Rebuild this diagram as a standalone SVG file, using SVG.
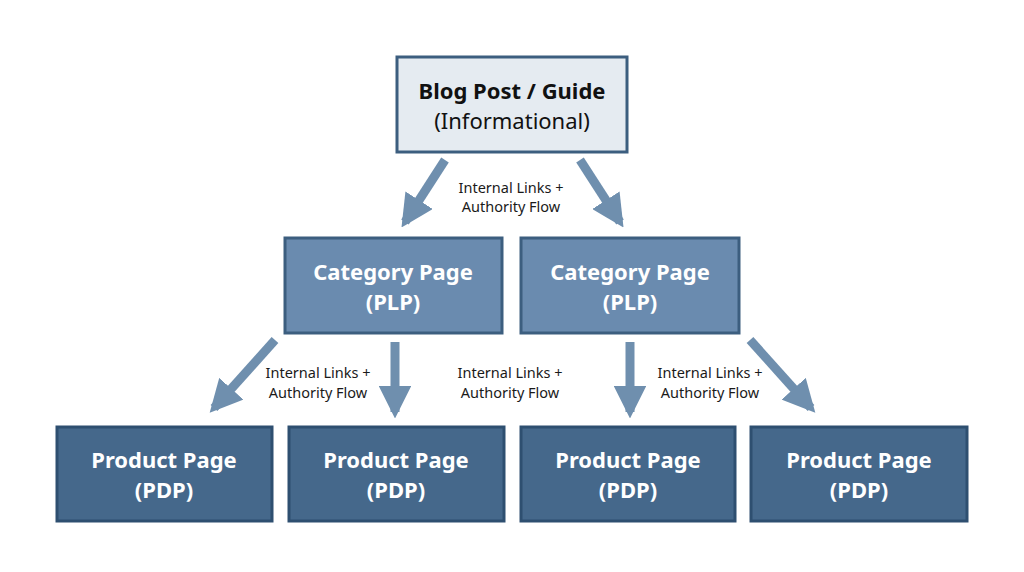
<svg xmlns="http://www.w3.org/2000/svg" width="1024" height="572" viewBox="0 0 1024 572">
<style>
.t{font-family:"Noto Sans","Open Sans",sans-serif;text-anchor:middle}
.b{font-size:22px;font-weight:bold;fill:#fff}
.l{font-size:14.5px;fill:#1a1a1a}
.top{fill:#e5ebf1;stroke:#3c5e7f;stroke-width:3}
.cat{fill:#6a8baf;stroke:#3c5e7f;stroke-width:3}
.pdp{fill:#45688b;stroke:#2e4f70;stroke-width:3}
.a{stroke:#6f8fae;stroke-width:9;fill:none;marker-end:url(#h)}
</style>
<defs><marker id="h" viewBox="0 0 10 10" refX="8" refY="5" markerWidth="3.6" markerHeight="3.6" orient="auto" markerUnits="strokeWidth"><path d="M0,0L10,5L0,10z" fill="#6f8fae"/></marker></defs>
<rect width="1024" height="572" fill="#fff"/>
<g id="connectors">
<line class="a" x1="445" y1="160" x2="405" y2="222"/>
<line class="a" x1="580" y1="160" x2="620" y2="222"/>
<line class="a" x1="275" y1="340" x2="214" y2="408"/>
<line class="a" x1="395" y1="342" x2="395" y2="412"/>
<line class="a" x1="630" y1="342" x2="630" y2="412"/>
<line class="a" x1="750" y1="340" x2="811" y2="408"/>
</g>
<g id="labels" class="t l">
<text x="511" y="193">Internal Links +</text><text x="511" y="212">Authority Flow</text>
<text x="318" y="378">Internal Links +</text><text x="318" y="398">Authority Flow</text>
<text x="510" y="378">Internal Links +</text><text x="510" y="398">Authority Flow</text>
<text x="710" y="378">Internal Links +</text><text x="710" y="398">Authority Flow</text>
</g>
<g id="blog"><rect class="top" x="397" y="57" width="230" height="95"/>
<text class="t" x="512" y="99" font-size="22" font-weight="bold" fill="#111">Blog Post / Guide</text>
<text class="t" x="512" y="129" font-size="22" fill="#111">(Informational)</text></g>
<g id="cat1"><rect class="cat" x="285" y="238" width="217" height="95"/><text class="t b" x="393" y="280">Category Page</text><text class="t b" x="393" y="310">(PLP)</text></g>
<g id="cat2"><rect class="cat" x="521" y="238" width="218" height="95"/><text class="t b" x="630" y="280">Category Page</text><text class="t b" x="630" y="310">(PLP)</text></g>
<g id="pdp1"><rect class="pdp" x="57" y="427" width="215" height="94"/><text class="t b" x="164" y="468">Product Page</text><text class="t b" x="164" y="498">(PDP)</text></g>
<g id="pdp2"><rect class="pdp" x="289" y="427" width="215" height="94"/><text class="t b" x="396" y="468">Product Page</text><text class="t b" x="396" y="498">(PDP)</text></g>
<g id="pdp3"><rect class="pdp" x="521" y="427" width="214" height="94"/><text class="t b" x="628" y="468">Product Page</text><text class="t b" x="628" y="498">(PDP)</text></g>
<g id="pdp4"><rect class="pdp" x="751" y="427" width="216" height="94"/><text class="t b" x="859" y="468">Product Page</text><text class="t b" x="859" y="498">(PDP)</text></g>
</svg>
